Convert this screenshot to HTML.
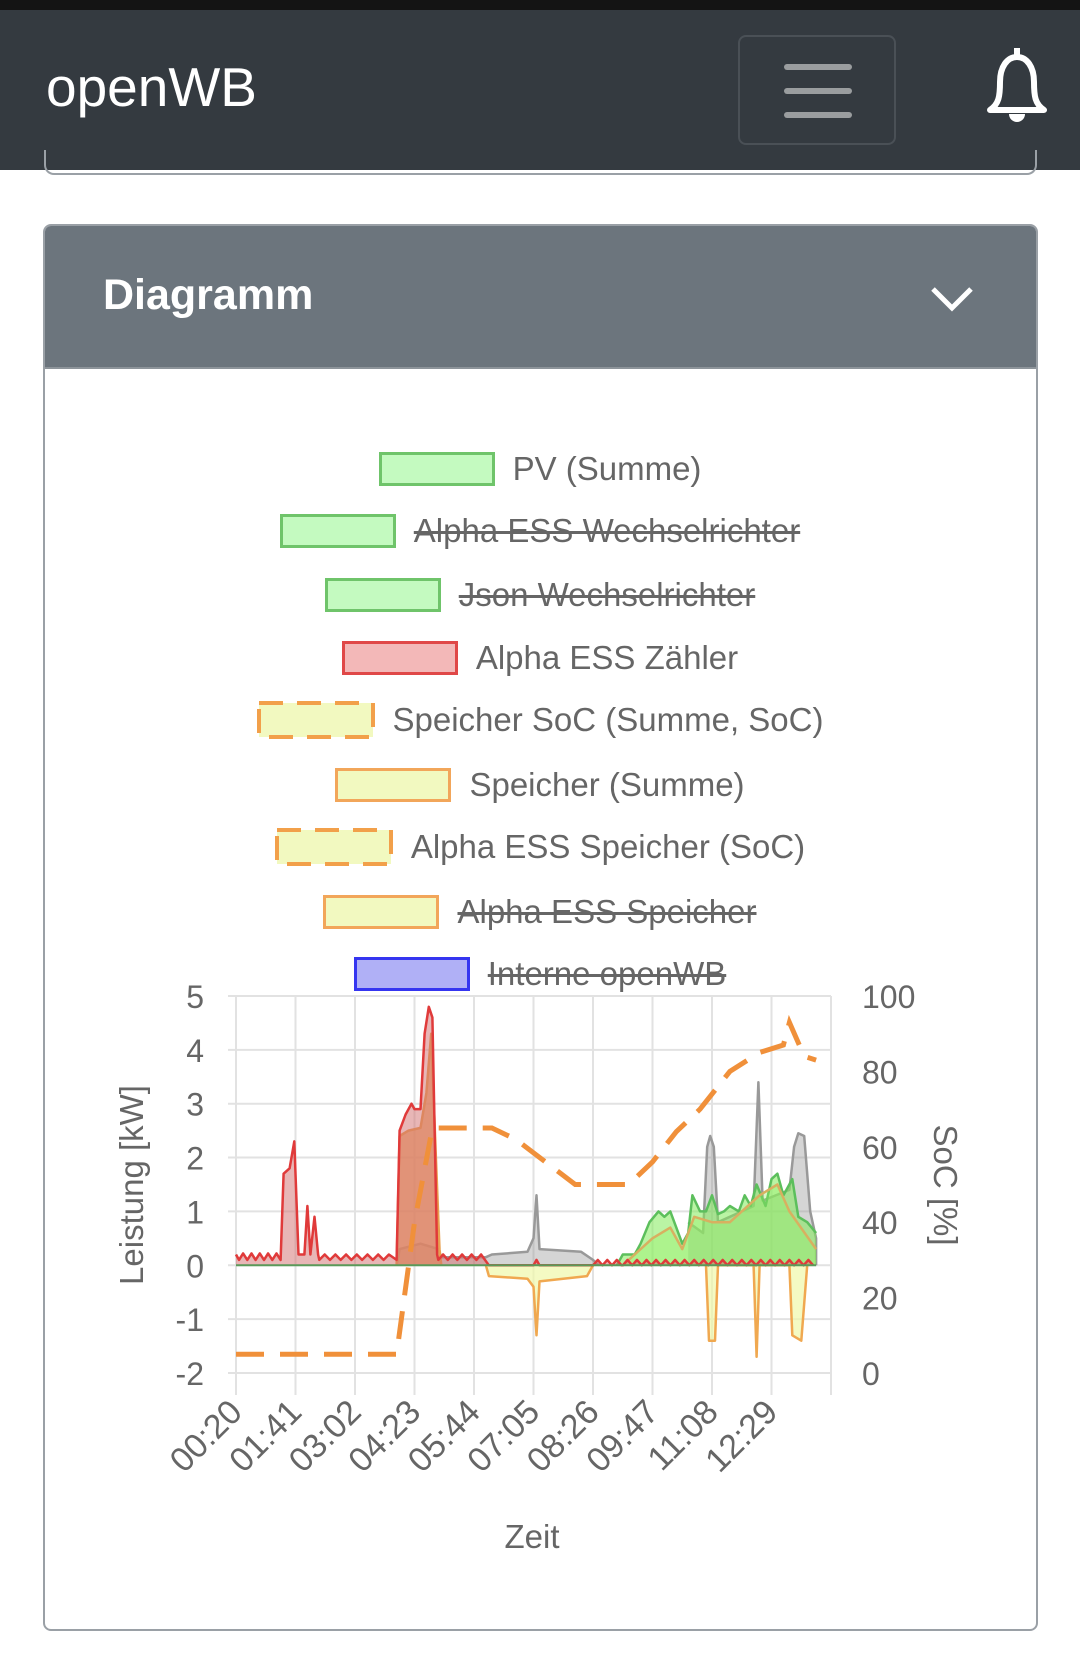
<!DOCTYPE html>
<html><head><meta charset="utf-8">
<style>
body{margin:0;width:1080px;height:1659px;background:#fff;font-family:"Liberation Sans",sans-serif;position:relative;overflow:hidden}
.top{position:absolute;left:0;top:0;width:1080px;height:10px;background:#141414}
.nav{position:absolute;left:0;top:10px;width:1080px;height:160px;background:#343a40}
.brand{position:absolute;left:46px;top:50px;color:#fff;font-size:55px;line-height:1}
.tog{position:absolute;left:738px;top:25px;width:158px;height:110px;border:2px solid #4a5056;border-radius:8px;box-sizing:border-box}
.tog i{position:absolute;left:44px;width:68px;height:6px;border-radius:3px;background:#9a9d9f}
.prev{position:absolute;left:44px;top:150px;width:993px;height:25px;border:2px solid #9aa0a6;border-top:none;border-radius:0 0 10px 10px;box-sizing:border-box}
.card{position:absolute;left:43px;top:224px;width:995px;height:1407px;border:2px solid #9aa0a6;border-radius:8px;box-sizing:border-box;overflow:hidden}
.hdr{position:absolute;left:0;top:0;width:100%;height:141px;background:#6c757d;border-bottom:2px solid #8d949a}
.hdr span{position:absolute;left:58px;top:45px;color:#fff;font-weight:bold;font-size:43px}
.leg{position:absolute;left:0;width:1080px;display:flex;justify-content:center;align-items:center;font-size:33px;color:#666}
.leg b{display:inline-block;width:116px;height:34px;box-sizing:border-box;margin-right:18px}
.leg svg{margin-right:18px}
.s{text-decoration:line-through;text-decoration-thickness:3px}
.g{background:#c4fac0;border:3px solid #6fc46a}
.r{background:#f3b8b8;border:3px solid #e04848}
.y{background:#f2f9c0;border:3px solid #f2a65a}
.bl{background:#b0b0f6;border:3px solid #3535f0}
</style></head><body>
<div class="top"></div>
<div class="nav"><div class="brand">openWB</div>
<div class="tog"><i style="top:27px"></i><i style="top:51px"></i><i style="top:75px"></i></div>
<svg style="position:absolute;left:980px;top:32px" width="74" height="88" viewBox="0 0 74 84"><path d="M37 4 v8 M10 66 c9-6 10-14 10-28 c0-15 7-25 17-25 c10 0 17 10 17 25 c0 14 1 22 10 28 z" fill="none" stroke="#fff" stroke-width="6" stroke-linejoin="round"/><path d="M29 70 a8 8 0 0 0 16 0z" fill="#fff"/></svg>
</div>
<div class="prev"></div>
<div class="card"><div class="hdr"><span>Diagramm</span>
<svg style="position:absolute;left:884px;top:58px" width="46" height="30"><path d="M4 5 L23 24 L42 5" fill="none" stroke="#fff" stroke-width="5"/></svg></div></div>

<div class="leg" style="top:450px"><b class="g"></b><span>PV (Summe)</span></div>
<div class="leg" style="top:512px"><b class="g"></b><span class="s">Alpha ESS Wechselrichter</span></div>
<div class="leg" style="top:576px"><b class="g"></b><span class="s">Json Wechselrichter</span></div>
<div class="leg" style="top:639px"><b class="r"></b><span>Alpha ESS Zähler</span></div>
<div class="leg" style="top:701px"><svg width="118" height="38"><rect x="2" y="2" width="114" height="34" fill="#f2f9c0" stroke="#f2a04a" stroke-width="4" stroke-dasharray="24 14"/></svg><span>Speicher SoC (Summe, SoC)</span></div>
<div class="leg" style="top:766px"><b class="y"></b><span>Speicher (Summe)</span></div>
<div class="leg" style="top:828px"><svg width="118" height="38"><rect x="2" y="2" width="114" height="34" fill="#f2f9c0" stroke="#f2a04a" stroke-width="4" stroke-dasharray="24 14"/></svg><span>Alpha ESS Speicher (SoC)</span></div>
<div class="leg" style="top:893px"><b class="y"></b><span class="s">Alpha ESS Speicher</span></div>
<div class="leg" style="top:955px"><b class="bl"></b><span class="s">Interne openWB</span></div>

<svg id="ch" style="position:absolute;left:0;top:0" width="1080" height="1659"></svg>
<script>
var X0=236,GW=59.5,Y0=1373,YH=53.86;
function px(g){return X0+g*GW}
function py(v){return Y0-(v+2)*YH}
function ps(s){return Y0-s/100*377}
var h='';
for(var i=0;i<=10;i++){var x=px(i);h+='<line x1="'+x+'" y1="996" x2="'+x+'" y2="1395" stroke="#e2e2e2" stroke-width="2"/>';}
for(var v=-2;v<=5;v++){var y=py(v);h+='<line x1="228" y1="'+y+'" x2="831" y2="'+y+'" stroke="#e2e2e2" stroke-width="2"/>';
h+='<text x="204" y="'+(y+12)+'" text-anchor="end" font-size="32" fill="#666">'+v+'</text>';}
for(var s=0;s<=100;s+=20){h+='<text x="862" y="'+(ps(s)+12)+'" font-size="32" fill="#666">'+s+'</text>';}
var t=['00:20','01:41','03:02','04:23','05:44','07:05','08:26','09:47','11:08','12:29'];
for(var i=0;i<10;i++){var x=px(i)+8;h+='<text transform="translate('+x+',1414) rotate(-45)" text-anchor="end" font-size="34" fill="#666">'+t[i]+'</text>';}
h+='<text transform="translate(143,1185) rotate(-90)" text-anchor="middle" font-size="33" fill="#666">Leistung [kW]</text>';
h+='<text transform="translate(934,1185) rotate(90)" text-anchor="middle" font-size="33" fill="#666">SoC [%]</text>';
h+='<text x="532" y="1548" text-anchor="middle" font-size="33" fill="#666">Zeit</text>';
function area(pts,fill,stroke){var d='M'+px(pts[0][0])+' '+py(0);pts.forEach(function(p){d+=' L'+px(p[0]).toFixed(1)+' '+py(p[1]).toFixed(1)});d+=' L'+px(pts[pts.length-1][0])+' '+py(0)+'Z';
var l='M'+pts.map(function(p){return px(p[0]).toFixed(1)+' '+py(p[1]).toFixed(1)}).join(' L');
h+='<path d="'+d+'" fill="'+fill+'"/><path d="'+l+'" fill="none" stroke="'+stroke+'" stroke-width="2.5" stroke-linejoin="round"/>';}
function jit(a,b,base,amp,step){var r=[];for(var g=a;g<b;g+=step){r.push([g,base+((Math.round((g-a)/step))%2?amp:0)]);}return r;}
area([[2.7,0],[2.75,0.3],[3.1,0.4],[3.4,0.3],[3.45,0.15],[4.2,0.15],[4.3,0.2],[4.9,0.25],[5.0,0.5],[5.05,1.3],[5.1,0.3],[5.8,0.25],[6.0,0.1],[6.1,0]],'rgba(150,150,150,0.4)','#999');
area([[7.6,0.8],[7.85,0.6],[7.92,2.2],[7.97,2.4],[8.03,2.2],[8.1,0.8],[8.7,1.1],[8.78,3.4],[8.85,1.2],[9.3,1.4],[9.38,2.2],[9.45,2.45],[9.55,2.4],[9.65,1.0],[9.75,0.5],[9.75,0]],'rgba(150,150,150,0.4)','#999');
area([[6.4,0],[6.5,0.2],[6.7,0.2],[6.8,0.4],[6.95,0.8],[7.1,1.0],[7.2,0.9],[7.3,1.0],[7.4,0.7],[7.5,0.4],[7.6,0.6],[7.67,1.3],[7.8,1.0],[7.9,1.0],[8.0,1.3],[8.1,0.95],[8.2,1.0],[8.3,1.1],[8.45,1.0],[8.55,1.3],[8.65,1.1],[8.75,1.5],[8.9,1.1],[9.0,1.6],[9.1,1.7],[9.2,1.3],[9.35,1.6],[9.45,0.9],[9.6,0.8],[9.75,0.6]],'rgba(130,235,90,0.55)','#5cbf5c');
area([[6.5,0],[7.0,0.5],[7.3,0.7],[7.5,0.3],[7.7,0.9],[8.0,0.8],[8.3,0.8],[8.8,1.3],[9.1,1.5],[9.3,1.0],[9.75,0.3]],'rgba(150,240,100,0.35)','#d8b060');
area([[2.7,0],[2.75,2.4],[2.9,2.5],[3.1,2.55],[3.2,3.2],[3.28,4.3],[3.36,2.0],[3.42,0.3],[3.45,0]],'rgba(235,160,90,0.75)','#e8a050');
area([[4.2,0],[4.25,-0.2],[4.9,-0.25],[5.0,-0.4],[5.05,-1.3],[5.1,-0.3],[5.9,-0.2],[6.0,0]],'rgba(240,248,170,0.7)','#f0a850');
area([[7.9,0],[7.95,-1.4],[8.05,-1.4],[8.1,0],[8.7,0],[8.75,-1.7],[8.8,0],[9.3,0],[9.35,-1.3],[9.5,-1.4],[9.6,0]],'rgba(240,248,170,0.7)','#f0a850');
var red=[[0,0.2]].concat(jit(0.05,0.8,0.1,0.12,0.07),[[0.8,1.7],[0.9,1.8],[0.98,2.3],[1.05,0.2],[1.15,0.2],[1.2,1.1],[1.25,0.2],[1.32,0.9],[1.38,0.2]],jit(1.4,2.65,0.1,0.1,0.09),[[2.7,0.1],[2.75,2.5],[2.85,2.8],[2.95,3.0],[3.0,2.9],[3.1,2.9],[3.17,4.3],[3.24,4.8],[3.3,4.6],[3.38,0.2]],jit(3.4,4.2,0.1,0.1,0.08),[[4.25,0],[5.0,0],[5.05,0.1],[5.1,0],[6.0,0]],jit(6.0,6.5,0,0.1,0.08),jit(6.5,9.75,0,0.1,0.08));
area(red,'rgba(210,110,110,0.5)','#e03a3a');
h+='<line x1="'+px(0)+'" y1="'+py(0)+'" x2="'+px(9.75)+'" y2="'+py(0)+'" stroke="#5a9a5a" stroke-width="2"/>';
var soc=[[0,5],[2.7,5],[3.0,40],[3.3,65],[4.3,65],[4.7,62],[5.2,56],[5.7,50],[6.6,50],[7.0,56],[7.4,64],[7.8,70],[8.3,80],[8.8,85],[9.2,87],[9.3,93],[9.55,84],[9.75,83]];
h+='<path d="M'+soc.map(function(p){return px(p[0]).toFixed(1)+' '+ps(p[1]).toFixed(1)}).join(' L')+'" fill="none" stroke="#f0903a" stroke-width="5" stroke-dasharray="28 16"/>';
document.getElementById('ch').innerHTML=h;
</script>
</body></html>
